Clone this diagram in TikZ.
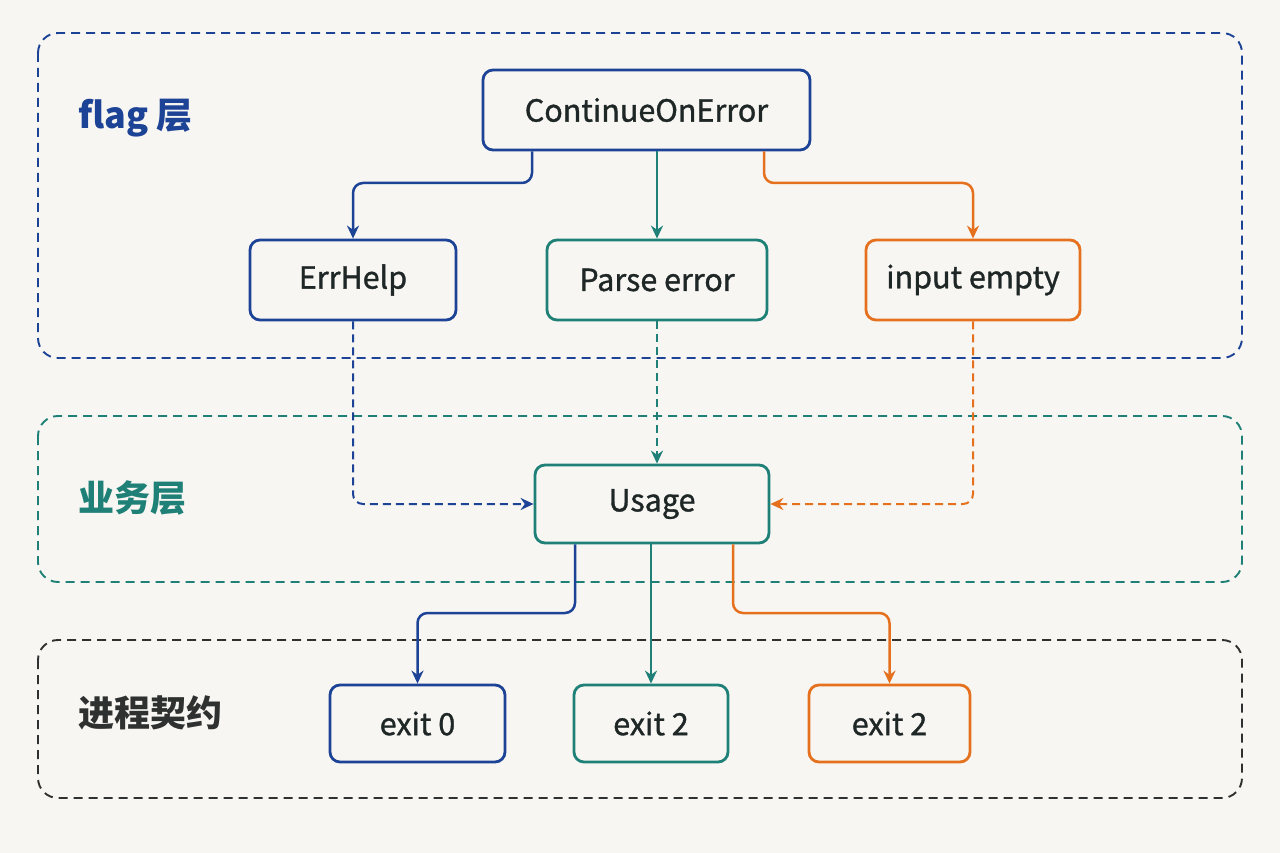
\documentclass[tikz,border=0pt]{standalone}
\usepackage{fontspec}
\setmainfont{Noto Sans CJK SC}
\newfontfamily\medfont[FakeBold=1.1]{Noto Sans CJK SC}
\usetikzlibrary{arrows.meta,calc}
\definecolor{bg}{HTML}{F7F6F2}
\definecolor{cblue}{HTML}{1D4396}
\definecolor{cteal}{HTML}{1F8077}
\definecolor{corange}{HTML}{E5711E}
\definecolor{cdark}{HTML}{2F3030}
\definecolor{ctext}{HTML}{1E2626}
\tikzset{
  layerbox/.style={line width=1.9pt, rounded corners=20pt, dash pattern=on 9pt off 6pt},
  boxnode/.style={draw, line width=2.8pt, rounded corners=10pt, fill=bg, text=ctext,
     font=\medfont\fontsize{30.5}{36}\selectfont, inner sep=0pt},
  layerlabel/.style={anchor=west, font=\bfseries\fontsize{36}{42}\selectfont, inner sep=0pt},
  conn/.style={line width=2.5pt, rounded corners=10pt, -{Stealth[length=13pt,width=12pt]}},
  dconn/.style={conn, dash pattern=on 8pt off 5pt, line width=2pt},
}
\begin{document}
\begin{tikzpicture}[x=1pt,y=-1pt]
\useasboundingbox[fill=bg] (0,0) rectangle (1280,853);
% layers
\draw[layerbox, cblue] (38,33) rectangle (1242,358);
\draw[layerbox, cteal] (38,416) rectangle (1242,582);
\draw[layerbox, cdark] (38,640) rectangle (1242,798);
\node[layerlabel, text=cblue] (lflag) at (78,118) {flag 层};
\node[layerlabel, text=cteal] (lbiz) at (78,498) {业务层};
\node[layerlabel, text=cdark] (lproc) at (78,713) {进程契约};
% nodes
\node[boxnode, draw=cblue, minimum width=327pt, minimum height=80pt] (coe) at (646.5,110) {ContinueOnError};
\node[boxnode, draw=cblue, minimum width=206pt, minimum height=80pt] (errhelp) at (353,280) {ErrHelp};
\node[boxnode, draw=cteal, minimum width=220pt, minimum height=80pt] (parse) at (657,280) {Parse error};
\node[boxnode, draw=corange, minimum width=214pt, minimum height=80pt] (empty) at (973,280) {input empty};
\node[boxnode, draw=cteal, minimum width=234pt, minimum height=78pt] (usage) at (652,504) {Usage};
\node[boxnode, draw=cblue, minimum width=175pt, minimum height=77pt] (exit0) at (417.5,723.5) {exit 0};
\node[boxnode, draw=cteal, minimum width=154pt, minimum height=77pt] (exitb) at (651,723.5) {exit 2};
\node[boxnode, draw=corange, minimum width=161pt, minimum height=77pt] (exitc) at (889.5,723.5) {exit 2};
% helper coordinates
\coordinate (xa) at (532,0);
\coordinate (xb) at (764,0);
\coordinate (ya) at (0,183);
\coordinate (xc) at (575,0);
\coordinate (xd) at (733,0);
\coordinate (yb) at (0,613);
% connectors top
\draw[conn, cblue] (coe.south -| xa) |- (errhelp.north |- ya) -- (errhelp.north);
\draw[conn, cteal] (coe.south -| parse.north) -- (parse.north);
\draw[conn, corange] (coe.south -| xb) |- (empty.north |- ya) -- (empty.north);
% dashed to usage
\draw[dconn, cblue] (errhelp.south) |- (usage.west);
\draw[dconn, cteal] (parse.south) -- (usage.north -| parse.south);
\draw[dconn, corange] (empty.south) |- (usage.east);
% bottom connectors
\draw[conn, cblue] (usage.south -| xc) |- (exit0.north |- yb) -- (exit0.north);
\draw[conn, cteal] (usage.south -| exitb.north) -- (exitb.north);
\draw[conn, corange] (usage.south -| xd) |- (exitc.north |- yb) -- (exitc.north);
\end{tikzpicture}
\end{document}
